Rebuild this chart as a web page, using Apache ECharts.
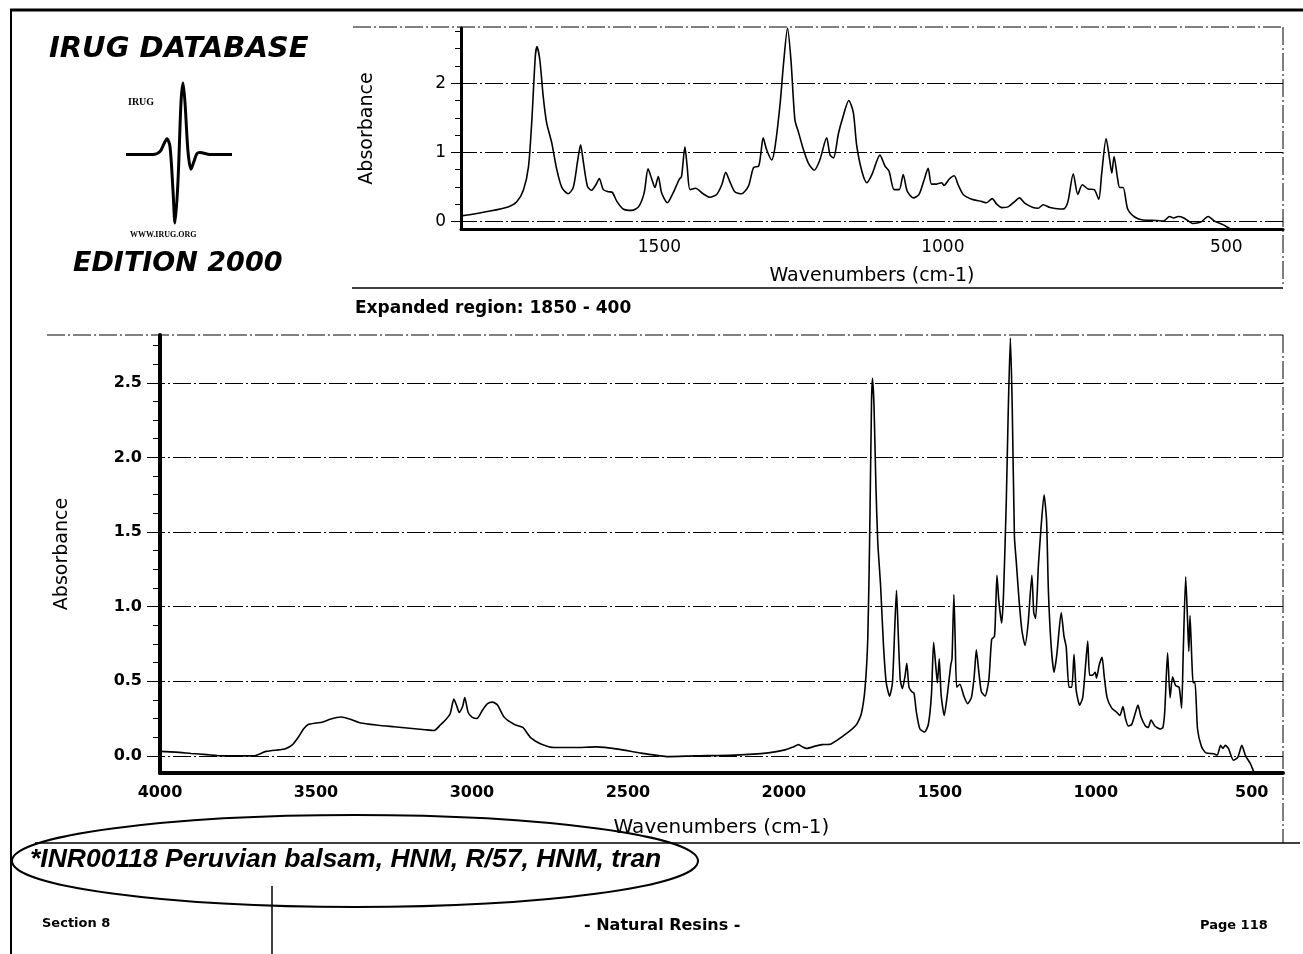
<!DOCTYPE html>
<html>
<head>
<meta charset="utf-8">
<title>IRUG - Peruvian balsam</title>
<script src="https://cdn.jsdelivr.net/npm/echarts@6/dist/echarts.min.js"></script>
<style>
  html, body { margin: 0; padding: 0; background: #fff; }
  #chart { width: 1303px; height: 954px; }
</style>
</head>
<body>
<div id="chart"></div>
<script>
// spectrum: [wavenumber cm-1, absorbance]
const chRegion = [
  [4000, 0.03], [3950, 0.025], [3900, 0.016], [3850, 0.008], [3800, 0.0], [3750, 0.0],
  [3700, 0.0], [3660, 0.03], [3620, 0.04], [3600, 0.045], [3575, 0.075], [3555, 0.13],
  [3540, 0.18], [3525, 0.21], [3500, 0.22], [3480, 0.225], [3455, 0.245], [3420, 0.26],
  [3390, 0.245], [3357, 0.22], [3300, 0.205], [3250, 0.195], [3200, 0.185], [3150, 0.175],
  [3121, 0.17], [3100, 0.21], [3085, 0.24], [3070, 0.28], [3058, 0.38], [3048, 0.33],
  [3041, 0.29], [3030, 0.33], [3023, 0.39], [3012, 0.29], [3000, 0.26], [2984, 0.25],
  [2965, 0.31], [2950, 0.35], [2934, 0.36], [2918, 0.34], [2897, 0.26], [2864, 0.21],
  [2837, 0.19], [2811, 0.12], [2779, 0.08], [2736, 0.056], [2672, 0.056], [2600, 0.06],
  [2532, 0.045], [2457, 0.018], [2371, -0.005], [2286, 0.0], [2157, 0.005], [2050, 0.02],
  [1996, 0.04], [1970, 0.06], [1953, 0.075], [1940, 0.06], [1927, 0.05], [1900, 0.065],
  [1878, 0.075]
]
const carbonylRegion = [
  [1849, 0.08], [1799, 0.15], [1767, 0.21], [1752, 0.28], [1740, 0.45], [1731, 0.79],
  [1725, 1.47], [1719, 2.38], [1716, 2.53], [1711, 2.34], [1705, 1.81], [1699, 1.43],
  [1690, 1.14], [1681, 0.75], [1672, 0.49], [1661, 0.40], [1652, 0.49], [1644, 0.89],
  [1639, 1.11], [1634, 0.85], [1627, 0.51], [1620, 0.45], [1612, 0.53], [1606, 0.62],
  [1599, 0.46], [1590, 0.43], [1583, 0.42], [1575, 0.29], [1564, 0.18], [1549, 0.16],
  [1537, 0.21], [1527, 0.41], [1520, 0.76], [1513, 0.60], [1508, 0.49], [1502, 0.65],
  [1496, 0.41], [1486, 0.27], [1476, 0.41], [1465, 0.61], [1461, 0.65], [1455, 1.08],
  [1451, 0.79], [1446, 0.46], [1436, 0.48], [1423, 0.40], [1411, 0.35], [1399, 0.39],
  [1390, 0.53], [1383, 0.71], [1376, 0.58], [1367, 0.43], [1355, 0.40], [1343, 0.51],
  [1334, 0.78], [1325, 0.80], [1321, 0.99], [1317, 1.21], [1311, 1.04], [1302, 0.89],
  [1296, 1.08], [1287, 1.71], [1281, 2.29], [1274, 2.8], [1268, 2.34], [1261, 1.47],
  [1255, 1.30], [1246, 1.04], [1237, 0.84], [1227, 0.74], [1217, 0.89], [1205, 1.21],
  [1199, 0.96], [1193, 0.92], [1184, 1.28], [1176, 1.52], [1166, 1.75], [1158, 1.58],
  [1152, 1.10], [1143, 0.73], [1134, 0.56], [1125, 0.68], [1111, 0.96]
]
const lowRegion = [
  [1102, 0.80], [1095, 0.73], [1086, 0.46], [1077, 0.46], [1070, 0.68], [1063, 0.44],
  [1052, 0.34], [1042, 0.39], [1032, 0.63], [1026, 0.77], [1020, 0.54], [1011, 0.54],
  [1002, 0.56], [998, 0.52], [989, 0.61], [980, 0.66], [973, 0.53], [964, 0.39],
  [949, 0.32], [932, 0.29], [923, 0.27], [913, 0.33], [905, 0.25], [896, 0.20],
  [885, 0.21], [873, 0.29], [865, 0.34], [855, 0.26], [841, 0.20], [832, 0.19],
  [823, 0.24], [811, 0.20], [794, 0.18], [785, 0.19], [779, 0.30], [770, 0.69],
  [762, 0.39], [754, 0.53], [744, 0.47], [733, 0.46], [725, 0.32], [720, 0.68],
  [712, 1.20], [706, 0.91], [702, 0.70], [698, 0.94], [692, 0.63], [688, 0.49],
  [682, 0.49], [674, 0.18], [661, 0.06], [647, 0.02], [623, 0.014], [611, 0.005],
  [600, 0.07], [593, 0.05], [585, 0.07], [575, 0.05], [559, -0.03], [545, -0.01],
  [532, 0.07], [520, 0.0], [505, -0.05], [495, -0.1], [488, -0.13]
]
const spectrum = chRegion.concat(carbonylRegion, lowRegion)

// axis ticks / labels
const topXLabels = [1500, 1000, 500]
const topYLabels = [0, 1, 2]
const topYMinor = [0, 0.25, 0.5, 0.75, 1, 1.25, 1.5, 1.75, 2, 2.25, 2.5, 2.75]
const mainXLabels = [4000, 3500, 3000, 2500, 2000, 1500, 1000, 500]
const mainYLabels = [0, 0.5, 1, 1.5, 2, 2.5]
const mainYMinor = [0, 0.125, 0.25, 0.375, 0.5, 0.625, 0.75, 0.875, 1, 1.125, 1.25, 1.375,
  1.5, 1.625, 1.75, 1.875, 2, 2.125, 2.25, 2.375, 2.5, 2.625, 2.75]

// IRUG logo trace (relative units)
const logoWave = [
  [0, 0], [27, 0], [34, 3], [38, 11], [41, 16], [44, 8], [47, -37], [49, -70], [52, -27],
  [55, 53], [57, 73], [59, 53], [62, 3], [65, -15], [68, -7], [71, 1], [74, 2], [84, 0], [106, 0]
]

const FONT = 'DejaVu Sans'
const gridDash = [18, 3, 2, 3]

const chart = echarts.init(document.getElementById('chart'))

const gridLines = (values) => ({
  silent: true,
  symbol: 'none',
  label: { show: false },
  lineStyle: { color: '#000', width: 1, type: gridDash, opacity: 1 },
  emphasis: { disabled: true },
  data: values.map(v => ({ yAxis: v }))
})

chart.setOption({
  animation: false,
  backgroundColor: '#fff',
  grid: [
    { left: 461, top: 28, width: 822, height: 201 },
    { left: 160, top: 335, width: 1123, height: 438 },
    { left: 126, top: 78, width: 106, height: 150 }
  ],
  xAxis: [
    {
      type: 'value', gridIndex: 0, inverse: true, min: 400, max: 1850,
      axisLine: { onZero: false, lineStyle: { color: '#000', width: 3 } },
      axisTick: { show: false },
      splitLine: { show: false },
      axisLabel: {
        customValues: topXLabels, color: '#000', fontFamily: FONT, fontSize: 17, margin: 10,
        formatter: v => String(v)
      },
      name: 'Wavenumbers (cm-1)', nameLocation: 'middle', nameGap: 38,
      nameTextStyle: { color: '#000', fontFamily: FONT, fontSize: 19 }
    },
    {
      type: 'value', gridIndex: 1, inverse: true, min: 400, max: 4000,
      axisLine: { onZero: false, lineStyle: { color: '#000', width: 4 } },
      axisTick: { show: false },
      splitLine: { show: false },
      axisLabel: {
        customValues: mainXLabels, color: '#000', fontFamily: FONT, fontWeight: 'bold', fontSize: 16, margin: 12,
        formatter: v => String(v)
      },
      name: 'Wavenumbers (cm-1)', nameLocation: 'middle', nameGap: 45,
      nameTextStyle: { color: '#000', fontFamily: FONT, fontSize: 20 }
    },
    { type: 'value', gridIndex: 2, min: 0, max: 106, show: false }
  ],
  yAxis: [
    {
      type: 'value', gridIndex: 0, position: 'left', min: -0.11, max: 2.8,
      axisLine: { show: true, lineStyle: { color: '#000', width: 3 } },
      axisTick: { show: true, customValues: topYMinor, length: 6, lineStyle: { color: '#000' } },
      axisLabel: { show: false },
      splitLine: { show: false }
    },
    {
      type: 'value', gridIndex: 0, position: 'left', min: -0.11, max: 2.8,
      axisLine: { show: false },
      axisTick: { show: true, customValues: topYLabels, length: 10, lineStyle: { color: '#000' } },
      axisLabel: {
        customValues: topYLabels, color: '#000', fontFamily: FONT, fontSize: 17, margin: 15,
        formatter: v => String(v)
      },
      splitLine: { show: false },
      name: 'Absorbance', nameLocation: 'middle', nameGap: 84,
      nameTextStyle: { color: '#000', fontFamily: FONT, fontSize: 19 }
    },
    {
      type: 'value', gridIndex: 1, position: 'left', min: -0.115, max: 2.82,
      axisLine: { show: true, lineStyle: { color: '#000', width: 4 } },
      axisTick: { show: true, customValues: mainYMinor, length: 7, lineStyle: { color: '#000' } },
      axisLabel: { show: false },
      splitLine: { show: false }
    },
    {
      type: 'value', gridIndex: 1, position: 'left', min: -0.115, max: 2.82,
      axisLine: { show: false },
      axisTick: { show: true, customValues: mainYLabels, length: 13, lineStyle: { color: '#000' } },
      axisLabel: {
        customValues: mainYLabels, color: '#000', fontFamily: FONT, fontWeight: 'bold', fontSize: 16, margin: 18,
        formatter: v => v.toFixed(1)
      },
      splitLine: { show: false },
      name: 'Absorbance', nameLocation: 'middle', nameGap: 88,
      nameTextStyle: { color: '#000', fontFamily: FONT, fontSize: 19 }
    },
    { type: 'value', gridIndex: 2, min: -75, max: 78, show: false }
  ],
  series: [
    {
      name: 'Expanded', type: 'line', xAxisIndex: 0, yAxisIndex: 0,
      data: spectrum, showSymbol: false, smooth: 0.25, silent: true,
      lineStyle: { color: '#000', width: 1.6 },
      markLine: gridLines(topYLabels)
    },
    {
      name: 'Full', type: 'line', xAxisIndex: 1, yAxisIndex: 2,
      data: spectrum, showSymbol: false, smooth: 0.2, silent: true,
      lineStyle: { color: '#000', width: 1.6 },
      markLine: gridLines(mainYLabels)
    },
    {
      name: 'Logo', type: 'line', xAxisIndex: 2, yAxisIndex: 4,
      data: logoWave, showSymbol: false, smooth: 0.3, silent: true,
      lineStyle: { color: '#000', width: 3 }
    }
  ],
  graphic: [
    // page frame
    { type: 'line', shape: { x1: 10, y1: 10, x2: 1303, y2: 10 }, style: { stroke: '#000', lineWidth: 3 } },
    { type: 'line', shape: { x1: 11, y1: 10, x2: 11, y2: 954 }, style: { stroke: '#000', lineWidth: 2 } },
    // expanded panel frame
    { type: 'line', shape: { x1: 353, y1: 27, x2: 1283, y2: 27 }, style: { stroke: '#000', lineWidth: 1, lineDash: gridDash } },
    { type: 'line', shape: { x1: 1283, y1: 27, x2: 1283, y2: 287 }, style: { stroke: '#000', lineWidth: 1, lineDash: gridDash } },
    { type: 'line', shape: { x1: 352, y1: 288, x2: 1283, y2: 288 }, style: { stroke: '#000', lineWidth: 1.5 } },
    // full panel frame
    { type: 'line', shape: { x1: 47, y1: 335, x2: 1283, y2: 335 }, style: { stroke: '#000', lineWidth: 1, lineDash: gridDash } },
    { type: 'line', shape: { x1: 1283, y1: 335, x2: 1283, y2: 843 }, style: { stroke: '#000', lineWidth: 1, lineDash: gridDash } },
    { type: 'line', shape: { x1: 35, y1: 843, x2: 1300, y2: 843 }, style: { stroke: '#000', lineWidth: 1.5 } },
    // header
    { type: 'text', left: 49, top: 35, style: { text: 'IRUG DATABASE', fill: '#000', font: 'italic bold 29px "DejaVu Sans"' } },
    { type: 'text', left: 73, top: 250, style: { text: 'EDITION 2000', fill: '#000', font: 'italic bold 27px "DejaVu Sans"' } },
    { type: 'text', left: 128, top: 97, style: { text: 'IRUG', fill: '#000', font: 'bold 10px "Liberation Serif"' } },
    { type: 'text', left: 130, top: 231, style: { text: 'WWW.IRUG.ORG', fill: '#000', font: 'bold 8px "Liberation Serif"' } },
    { type: 'text', left: 355, top: 300, style: { text: 'Expanded region: 1850 - 400', fill: '#000', font: 'bold 17px "DejaVu Sans"' } },
    // sample label
    { type: 'ellipse', shape: { cx: 355, cy: 861, rx: 343, ry: 46 }, style: { fill: 'none', stroke: '#000', lineWidth: 2 } },
    { type: 'text', left: 30, top: 846, style: { text: '*INR00118 Peruvian balsam, HNM, R/57, HNM, tran', fill: '#000', font: 'italic bold 26.5px "Liberation Sans"' } },
    // footer
    { type: 'line', shape: { x1: 272, y1: 886, x2: 272, y2: 954 }, style: { stroke: '#000', lineWidth: 1.5 } },
    { type: 'text', left: 42, top: 917, style: { text: 'Section 8', fill: '#000', font: 'bold 13px "DejaVu Sans"' } },
    { type: 'text', left: 584, top: 918, style: { text: '- Natural Resins -', fill: '#000', font: 'bold 16px "DejaVu Sans"' } },
    { type: 'text', left: 1200, top: 919, style: { text: 'Page 118', fill: '#000', font: 'bold 13px "DejaVu Sans"' } }
  ]
})

window.addEventListener('resize', () => chart.resize())
</script>
</body>
</html>
